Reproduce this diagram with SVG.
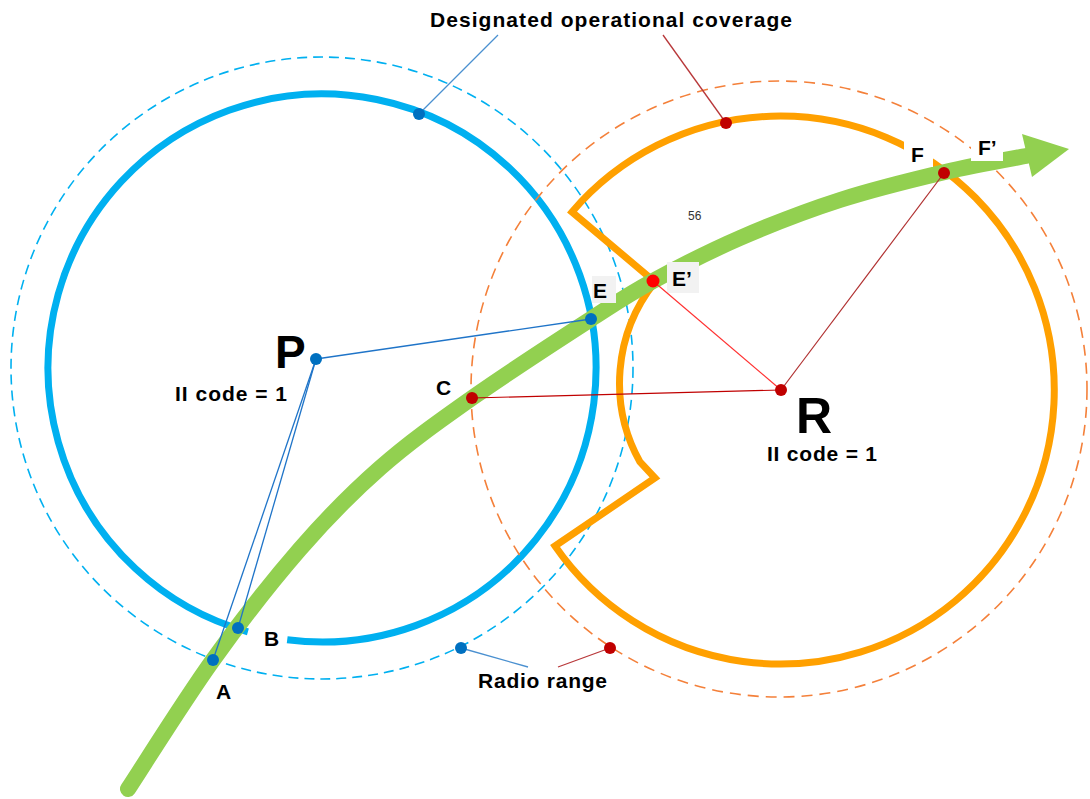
<svg xmlns="http://www.w3.org/2000/svg" width="1090" height="799" viewBox="0 0 1090 799">
<style>
.lbl{font-family:"Liberation Sans",Arial,sans-serif;font-weight:bold;fill:#000}
.small{font-family:"Liberation Sans",Arial,sans-serif;font-size:12px;fill:#333}
.bsolid{fill:none;stroke:#00b0f0;stroke-width:7}
.bdash{fill:none;stroke:#00b0f0;stroke-width:1.6;stroke-dasharray:10 6}
.odash{fill:none;stroke:#f4803a;stroke-width:1.6;stroke-dasharray:11 7}
.osolid{fill:none;stroke:#ffa000;stroke-width:7;stroke-linejoin:miter}
.bline{stroke:#1f74c8;stroke-width:1.3;fill:none}
.bleader{stroke:#4a90d0;stroke-width:1.3;fill:none}
.rline{stroke:#c02020;stroke-width:1.2;fill:none}
.rleader{stroke:#b8383a;stroke-width:1.3;fill:none}
.bdot{fill:#0070c0}
.rdot{fill:#c00000}
</style>
<rect width="1090" height="799" fill="#fff"/>
<g id="coverage-P">
<path class="bsolid" d="M247.9,631.8 A274,274 0 1 1 287.2,639.8"/>
<circle class="bdash" cx="322" cy="368" r="311"/>
</g>
<g id="coverage-R">
<circle class="odash" cx="779" cy="389" r="308"/>
<path class="osolid" d="M572,212 L655,282 A162,162 0 0 0 640,462 L655,478 L555,546 A274,274 0 1 0 572,212 Z"/>
</g>
<g id="track">
<path fill="none" stroke="#92d050" stroke-width="16" stroke-linecap="round" d="M128,789 C142.2,767.5 184.3,700 213,660 C241.7,620 272.2,581 300,549 C327.8,517 351.3,493.2 380,468 C408.7,442.8 436.8,422.8 472,398 C507.2,373.2 560.8,338.5 591,319 C621.2,299.5 628.2,294.5 653,281 C677.8,267.5 708.8,251.5 740,238 C771.2,224.5 805.8,211 840,200 C874.2,189 914.2,179.3 945,172 C975.8,164.7 1011.7,158.7 1026,156"/>
<polygon fill="#92d050" points="1022,134 1069,149 1032,177"/>
</g>
<g id="label-boxes">
<rect x="592" y="276" width="24" height="27" fill="#f2f2f2"/>
<rect x="667" y="262" width="32" height="31" fill="#f2f2f2"/>
<rect x="904" y="136" width="29" height="31" fill="#fff"/>
<rect x="971" y="136" width="32" height="25" fill="#fff"/>
</g>
<g id="connectors">
<line class="bline" x1="316" y1="359" x2="591" y2="319"/>
<line class="bline" x1="316" y1="359" x2="213" y2="660"/>
<line class="bline" x1="316" y1="359" x2="238" y2="628"/>
<line class="bleader" x1="498" y1="35" x2="419" y2="114"/>
<line class="rleader" x1="663" y1="35" x2="726" y2="123"/>
<line class="bleader" x1="461" y1="648" x2="528" y2="667"/>
<line class="rleader" x1="610" y1="648" x2="558" y2="667"/>
<line class="rline" x1="781" y1="390" x2="472" y2="398" style="stroke:#c00000"/>
<line class="rline" x1="781" y1="390" x2="653" y2="281" style="stroke:#ff3030"/>
<line class="rline" x1="781" y1="390" x2="944" y2="173" style="stroke:#b03030"/>
</g>
<g id="point-dots">
<circle class="bdot" cx="419" cy="114" r="6"/>
<circle class="bdot" cx="316" cy="359" r="6"/>
<circle class="bdot" cx="591" cy="319" r="6"/>
<circle class="bdot" cx="213" cy="660" r="6"/>
<circle class="bdot" cx="238" cy="628" r="6"/>
<circle class="bdot" cx="461" cy="648" r="6"/>
<circle class="rdot" cx="726" cy="123" r="6"/>
<circle cx="653" cy="281" r="6.5" fill="#ff0000"/>
<circle class="rdot" cx="472" cy="398" r="6"/>
<circle class="rdot" cx="781" cy="390" r="6"/>
<circle class="rdot" cx="944" cy="173" r="6"/>
<circle class="rdot" cx="610" cy="648" r="6"/>
</g>
<g id="labels">
<text class="lbl" x="430" y="27" font-size="21" textLength="362">Designated operational coverage</text>
<text class="lbl" x="275" y="368" font-size="46">P</text>
<text class="lbl" x="175" y="401" font-size="21" textLength="112">II code = 1</text>
<text class="lbl" x="796" y="433" font-size="50">R</text>
<text class="lbl" x="767" y="461" font-size="21" textLength="110">II code = 1</text>
<text class="lbl" x="216" y="699" font-size="21">A</text>
<text class="lbl" x="264" y="646" font-size="21">B</text>
<text class="lbl" x="436" y="395" font-size="21">C</text>
<text class="lbl" x="593" y="298" font-size="21">E</text>
<text class="lbl" x="672" y="286" font-size="21">E’</text>
<text class="lbl" x="911" y="162" font-size="21">F</text>
<text class="lbl" x="978" y="155" font-size="21">F’</text>
<text class="small" x="688" y="220">56</text>
<text class="lbl" x="478" y="688" font-size="21" textLength="129">Radio range</text>
</g>
</svg>
